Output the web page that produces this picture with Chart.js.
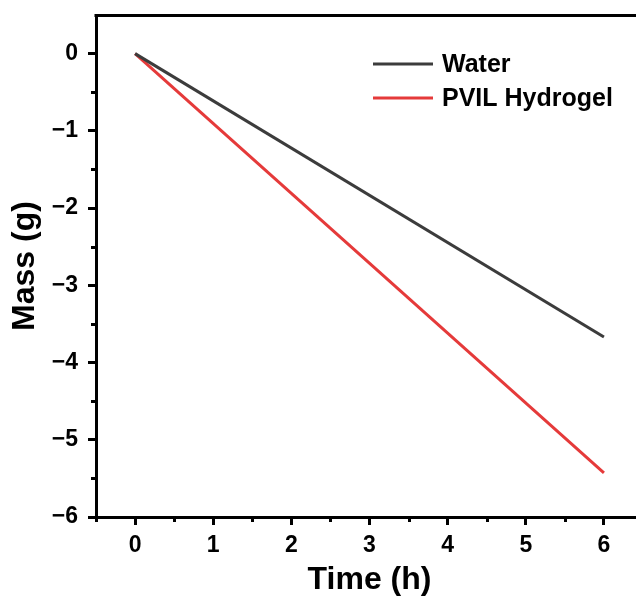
<!DOCTYPE html>
<html>
<head>
<meta charset="utf-8">
<script src="https://cdn.jsdelivr.net/npm/chart.js@4.4.1/dist/chart.umd.min.js"></script>
<style>
  html, body { margin: 0; padding: 0; background: #ffffff; overflow: hidden; width: 636px; height: 599px; }
  canvas { display: block; }
</style>
</head>
<body>
<canvas id="chart" width="680" height="599" style="width:680px;height:599px"></canvas>
<script>
// Time (h) and mass change (g) of each sample
const timeHours = [0, 6];
const waterMass = [0, -3.67];
const hydrogelMass = [0, -5.43];

const seriesLabels = ['Water', 'PVIL Hydrogel'];
const xTicks = [0, 1, 2, 3, 4, 5, 6];
const yTicks = [0, -1, -2, -3, -4, -5, -6];
const xMinor = [-0.5, 0.5, 1.5, 2.5, 3.5, 4.5, 5.5];
const yMinor = [-0.5, -1.5, -2.5, -3.5, -4.5, -5.5];

const FONT = '"Liberation Sans", Arial, Helvetica, sans-serif';
const toPoints = (xs, ys) => xs.map((x, i) => ({ x: x, y: ys[i] }));
const minus = v => (v < 0 ? '\u2212' + Math.abs(v) : String(v));

// short outward minor ticks at the half-unit positions, plus the top frame line
const minorTicks = {
  id: 'minorTicks',
  afterDraw(chart) {
    const { ctx, chartArea, scales } = chart;
    ctx.save();
    ctx.strokeStyle = '#000';
    ctx.lineWidth = 3;
    ctx.beginPath();
    xMinor.forEach(v => {
      const px = Math.round(scales.x.getPixelForValue(v)) + 0.5;
      ctx.moveTo(px, chartArea.bottom);
      ctx.lineTo(px, chartArea.bottom + 5);
    });
    yMinor.forEach(v => {
      const py = Math.round(scales.y.getPixelForValue(v)) + 0.5;
      ctx.moveTo(chartArea.left, py);
      ctx.lineTo(chartArea.left - 5, py);
    });
    ctx.stroke();
    ctx.beginPath();
    ctx.moveTo(chartArea.left - 1.5, chartArea.top + 0.5);
    ctx.lineTo(chartArea.right + 2, chartArea.top + 0.5);
    ctx.stroke();
    ctx.restore();
  }
};

// line-sample legend inside the plot, top right
const lineLegend = {
  id: 'lineLegend',
  afterDatasetsDraw(chart) {
    const { ctx } = chart;
    const x0 = 373, x1 = 433, tx = 442, y0 = 64, dy = 34;
    ctx.save();
    ctx.font = 'bold 25px ' + FONT;
    ctx.textBaseline = 'middle';
    ctx.textAlign = 'left';
    chart.data.datasets.forEach((ds, i) => {
      const y = y0 + i * dy;
      ctx.strokeStyle = ds.borderColor;
      ctx.lineWidth = 3;
      ctx.beginPath();
      ctx.moveTo(x0, y);
      ctx.lineTo(x1, y);
      ctx.stroke();
      ctx.fillStyle = '#000';
      ctx.fillText(ds.label, tx, y + 1);
    });
    ctx.restore();
  }
};

new Chart(document.getElementById('chart'), {
  type: 'line',
  data: {
    datasets: [
      {
        label: seriesLabels[0],
        data: toPoints(timeHours, waterMass),
        borderColor: '#3c3c3c',
        borderWidth: 3,
        pointRadius: 0,
        tension: 0,
        order: 1
      },
      {
        label: seriesLabels[1],
        data: toPoints(timeHours, hydrogelMass),
        borderColor: '#e53a3a',
        borderWidth: 3,
        pointRadius: 0,
        tension: 0,
        order: 2
      }
    ]
  },
  options: {
    responsive: false,
    animation: false,
    events: [],
    layout: { padding: { top: 15, right: 37, left: 0, bottom: 0 } },
    plugins: {
      legend: { display: false },
      tooltip: { enabled: false }
    },
    scales: {
      x: {
        type: 'linear',
        position: 'bottom',
        min: -0.5,
        max: 6.5,
        afterFit: s => { s.height = 82; s.paddingLeft = 0; s.paddingRight = 0; },
        afterBuildTicks: s => { s.ticks = xTicks.map(v => ({ value: v })); },
        ticks: {
          includeBounds: false,
          padding: 7,
          color: '#000',
          font: { family: FONT, size: 23, weight: 'bold' },
          callback: v => minus(v),
          maxRotation: 0
        },
        grid: {
          display: true,
          drawOnChartArea: false,
          drawTicks: true,
          tickLength: 8,
          tickWidth: 3,
          tickColor: '#000'
        },
        border: { display: true, color: '#000', width: 3 },
        title: {
          display: true,
          text: 'Time (h)',
          color: '#000',
          font: { family: FONT, size: 32, weight: 'bold', lineHeight: 1 },
          padding: { top: 0, bottom: 3 }
        }
      },
      y: {
        type: 'linear',
        position: 'left',
        min: -6,
        max: 0.5,
        afterFit: s => { s.width = 96; s.paddingTop = 0; s.paddingBottom = 0; },
        afterBuildTicks: s => { s.ticks = yTicks.map(v => ({ value: v })); },
        ticks: {
          includeBounds: false,
          padding: 10,
          color: '#000',
          font: { family: FONT, size: 23, weight: 'bold' },
          callback: v => minus(v)
        },
        grid: {
          display: true,
          drawOnChartArea: false,
          drawTicks: true,
          tickLength: 8,
          tickWidth: 3,
          tickColor: '#000'
        },
        border: { display: true, color: '#000', width: 3 },
        title: {
          display: true,
          text: 'Mass (g)',
          color: '#000',
          font: { family: FONT, size: 32, weight: 'bold', lineHeight: 1 },
          padding: { top: 9, bottom: 0 }
        }
      }
    }
  },
  plugins: [minorTicks, lineLegend]
});
</script>
</body>
</html>
